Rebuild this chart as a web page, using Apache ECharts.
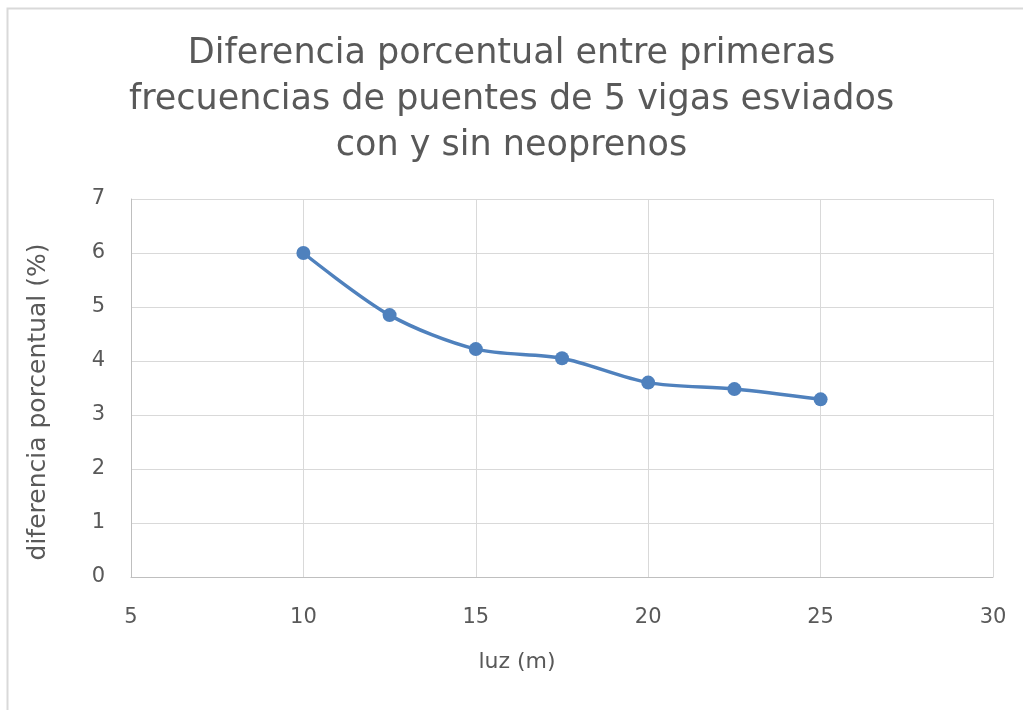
<!DOCTYPE html>
<html>
<head>
<meta charset="utf-8">
<script src="https://cdn.jsdelivr.net/npm/echarts@6/dist/echarts.min.js"></script>
<style>
html,body{margin:0;padding:0;background:#fff;}
#c{width:1023px;height:710px;}
</style>
</head>
<body>
<div id="c"></div>
<script>
const titleText = 'Diferencia porcentual entre primeras\nfrecuencias de puentes de 5 vigas esviados\ncon y sin neoprenos';
const xAxisName = 'luz (m)';
const yAxisName = 'diferencia porcentual (%)';
const luz = [10, 12.5, 15, 17.5, 20, 22.5, 25];
const diferencia = [6.0, 4.85, 4.22, 4.05, 3.6, 3.48, 3.29];

const FONT = 'DejaVu Sans';
const TXT = '#595959';
const chart = echarts.init(document.getElementById('c'));
chart.setOption({
  animation: false,
  backgroundColor: '#fff',
  graphic: [{
    type: 'rect', silent: true,
    shape: {x: 7.5, y: 8.5, width: 1100, height: 800},
    style: {fill: 'none', stroke: '#d9d9d9', lineWidth: 2}
  }],
  title: {
    text: titleText,
    left: 'center', top: 26,
    textStyle: {fontFamily: FONT, fontSize: 35, fontWeight: 'normal', color: TXT, lineHeight: 46}
  },
  grid: {left: 131, right: 30, top: 199, bottom: 133},
  xAxis: {
    type: 'value', min: 5, max: 30, interval: 5,
    name: xAxisName, nameLocation: 'middle', nameGap: 74,
    nameTextStyle: {fontFamily: FONT, fontSize: 22, color: TXT, padding: [0, 90, 0, 0]},
    axisLine: {show: true, lineStyle: {color: '#bfbfbf', width: 1}},
    axisTick: {show: false},
    axisLabel: {fontFamily: FONT, fontSize: 21, color: TXT, margin: 30},
    splitLine: {show: true, lineStyle: {color: '#d9d9d9', width: 1}}
  },
  yAxis: {
    type: 'value', min: 0, max: 7, interval: 1,
    name: yAxisName, nameLocation: 'middle', nameGap: 80,
    nameTextStyle: {fontFamily: FONT, fontSize: 25, color: TXT, padding: [0, 28, 0, 0]},
    axisLine: {show: true, lineStyle: {color: '#bfbfbf', width: 1}},
    axisTick: {show: false},
    axisLabel: {fontFamily: FONT, fontSize: 21, color: TXT, margin: 26},
    splitLine: {show: true, lineStyle: {color: '#d9d9d9', width: 1}}
  },
  series: [{
    type: 'line',
    data: luz.map((x, i) => [x, diferencia[i]]),
    smooth: 0.3,
    symbol: 'circle', symbolSize: 14,
    lineStyle: {color: '#4F81BD', width: 3.5},
    itemStyle: {color: '#4F81BD'}
  }]
});
</script>
</body>
</html>
